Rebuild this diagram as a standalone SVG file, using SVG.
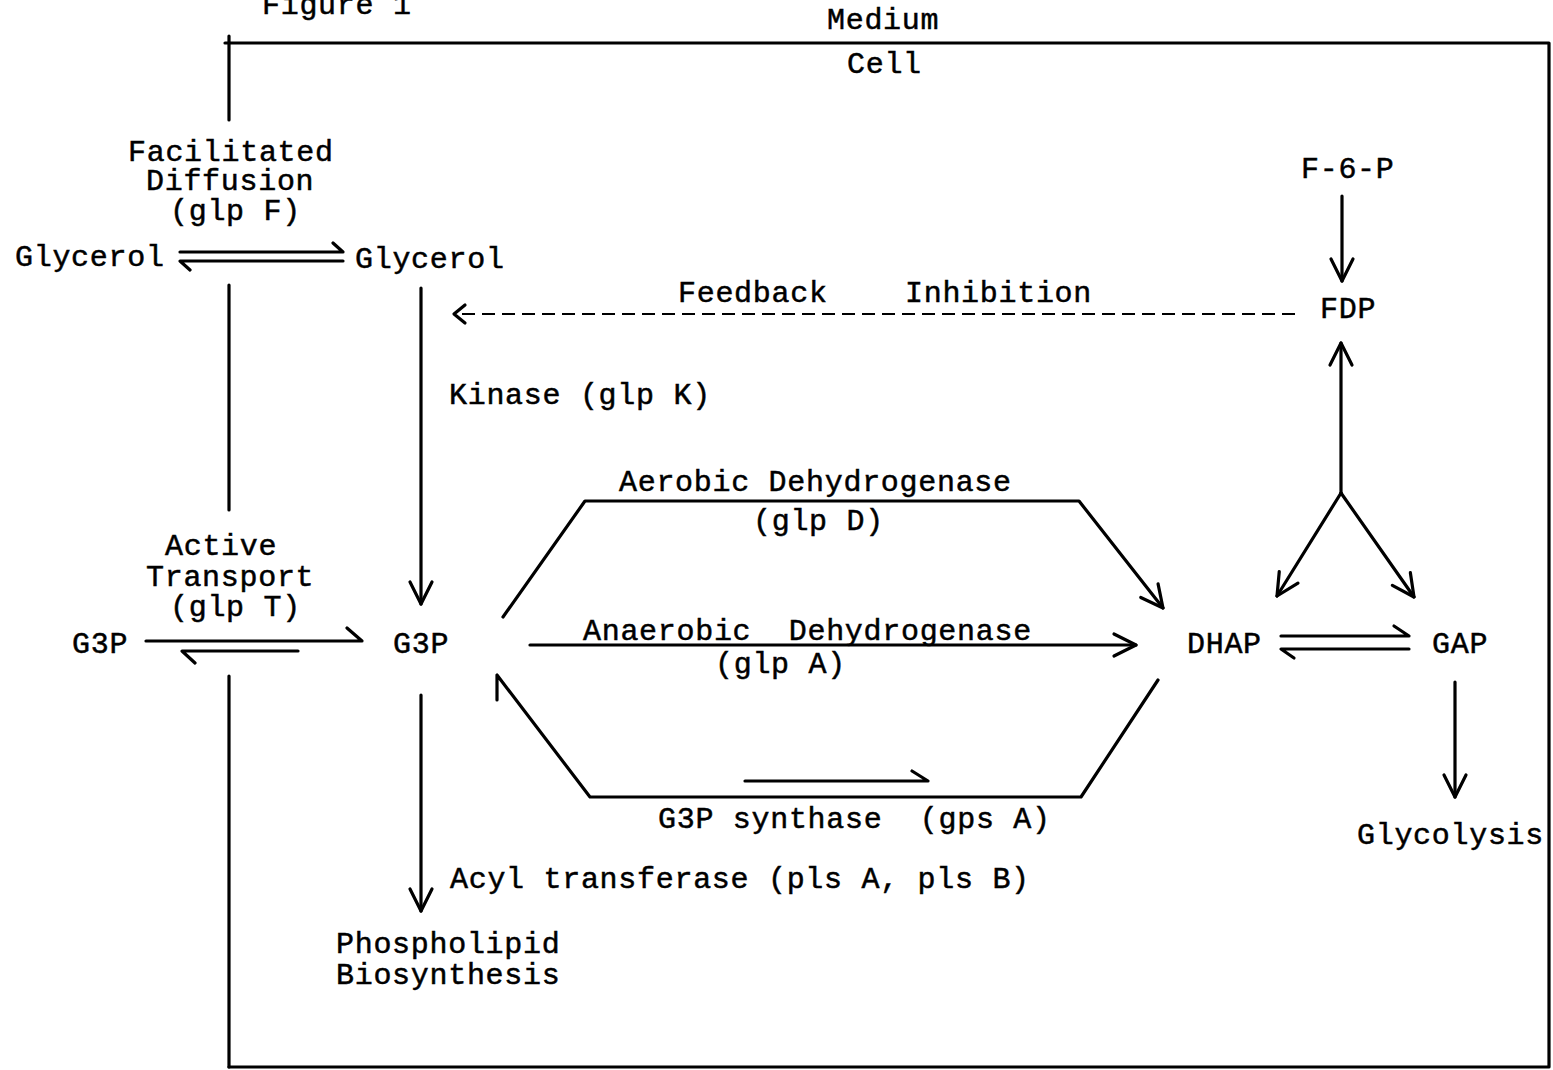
<svg xmlns="http://www.w3.org/2000/svg" width="1553" height="1070" viewBox="0 0 1553 1070">
  <style>
    text { font-family: "Liberation Mono", "DejaVu Sans Mono", monospace; font-size: 30px; letter-spacing: 0.7px; fill: #000; stroke: #000; stroke-width: 0.5px; }
    .ln { fill: none; stroke: #000; stroke-width: 3.2; stroke-linecap: round; stroke-linejoin: round; }
    .dash { fill: none; stroke: #000; stroke-width: 2; stroke-dasharray: 13 7; }
  </style>
  <defs>
    <marker id="head" markerUnits="userSpaceOnUse" markerWidth="30" markerHeight="30" viewBox="-26 -15 30 30" refX="0" refY="0" orient="auto">
      <path d="M -22 -11 L 0 0 L -22 11" fill="none" stroke="#000" stroke-width="3.2" stroke-linecap="round" stroke-linejoin="round"/>
    </marker>
  </defs>
  <rect width="1553" height="1070" fill="#fff"/>

  <!-- Title and compartments -->
  <g id="title"><text x="262" y="14">Figure 1</text></g>
  <g id="medium"><text x="827" y="29">Medium</text></g>
  <g id="cell"><text x="847" y="73">Cell</text></g>

  <!-- Cell membrane boundary -->
  <g id="membrane" class="ln">
    <path d="M 225 43 L 1549 43 L 1549 1067 L 229 1067"/>
    <path d="M 229 36 L 229 120"/>
    <path d="M 229 285 L 229 510"/>
    <path d="M 229 676 L 229 1067"/>
  </g>

  <!-- Metabolites -->
  <g id="glycerol-out"><text x="15" y="266">Glycerol</text></g>
  <g id="glycerol-in"><text x="355" y="268">Glycerol</text></g>
  <g id="g3p-out"><text x="72" y="653">G3P</text></g>
  <g id="g3p-in"><text x="393" y="653">G3P</text></g>
  <g id="dhap"><text x="1187" y="653">DHAP</text></g>
  <g id="gap"><text x="1432" y="653">GAP</text></g>
  <g id="f6p"><text x="1301" y="178">F-6-P</text></g>
  <g id="fdp"><text x="1320" y="318">FDP</text></g>
  <g id="glycolysis"><text x="1357" y="844">Glycolysis</text></g>
  <g id="phospholipid">
    <text x="336" y="953">Phospholipid</text>
    <text x="336" y="984">Biosynthesis</text>
  </g>

  <!-- Enzyme / process labels -->
  <g id="label-glpF">
    <text x="128" y="161">Facilitated</text>
    <text x="146" y="190">Diffusion</text>
    <text x="170" y="220">(glp F)</text>
  </g>
  <g id="label-glpT">
    <text x="165" y="555">Active</text>
    <text x="146" y="586">Transport</text>
    <text x="170" y="616">(glp T)</text>
  </g>
  <g id="label-glpK"><text x="449" y="404">Kinase (glp K)</text></g>
  <g id="label-feedback">
    <text x="678" y="302">Feedback</text>
    <text x="905" y="302">Inhibition</text>
  </g>
  <g id="label-glpD">
    <text x="619" y="491">Aerobic Dehydrogenase</text>
    <text x="753" y="530">(glp D)</text>
  </g>
  <g id="label-glpA">
    <text x="583" y="640" xml:space="preserve">Anaerobic  Dehydrogenase</text>
    <text x="715" y="673">(glp A)</text>
  </g>
  <g id="label-gpsA"><text x="658" y="828" xml:space="preserve">G3P synthase  (gps A)</text></g>
  <g id="label-pls"><text x="450" y="888">Acyl transferase (pls A, pls B)</text></g>

  <!-- Connectors -->
  <g id="connectors">
    <!-- glycerol facilitated diffusion (reversible) -->
    <path class="ln" d="M 180 252 L 343 252 L 333 243"/>
    <path class="ln" d="M 343 261 L 180 261 L 190 270"/>
    <!-- G3P active transport -->
    <path class="ln" d="M 146 641 L 362 641 L 347 628"/>
    <path class="ln" d="M 298 651 L 182 651 L 195 663"/>
    <!-- kinase -->
    <path class="ln" d="M 421 288 L 421 604" marker-end="url(#head)"/>
    <!-- acyl transferase -->
    <path class="ln" d="M 421 695 L 421 911" marker-end="url(#head)"/>
    <!-- feedback inhibition -->
    <path class="dash" d="M 1295 314 L 462 314"/>
    <path class="ln" d="M 465 305 L 454 314 L 465 323"/>
    <!-- F-6-P to FDP -->
    <path class="ln" d="M 1342 196 L 1342 281" marker-end="url(#head)"/>
    <!-- DHAP / GAP to FDP -->
    <path class="ln" d="M 1341 493 L 1341 343" marker-end="url(#head)"/>
    <path class="ln" d="M 1341 493 L 1277 596" marker-end="url(#head)"/>
    <path class="ln" d="M 1341 493 L 1414 597" marker-end="url(#head)"/>
    <!-- aerobic dehydrogenase -->
    <path class="ln" d="M 503 617 L 585 501 L 1079 501 L 1163 608" marker-end="url(#head)"/>
    <!-- anaerobic dehydrogenase -->
    <path class="ln" d="M 530 645 L 1136 645" marker-end="url(#head)"/>
    <!-- G3P synthase -->
    <path class="ln" d="M 1158 680 L 1081 797 L 590 797 L 497 675 L 497 700"/>
    <path class="ln" d="M 745 781 L 928 781 L 912 771"/>
    <!-- DHAP / GAP isomerisation -->
    <path class="ln" d="M 1281 636 L 1409 636 L 1394 626"/>
    <path class="ln" d="M 1409 649 L 1281 649 L 1294 658"/>
    <!-- to glycolysis -->
    <path class="ln" d="M 1455 682 L 1455 797" marker-end="url(#head)"/>
  </g>
</svg>
